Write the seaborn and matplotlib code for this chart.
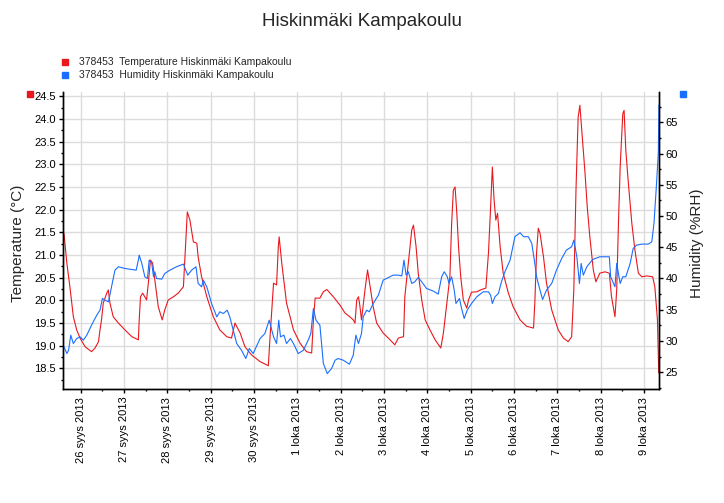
#!/usr/bin/env python3

import matplotlib
matplotlib.use('Agg')
import matplotlib.pyplot as plt
import matplotlib.dates as mdates
from matplotlib.ticker import MultipleLocator, FuncFormatter
from matplotlib.lines import Line2D
import pandas as pd
import seaborn as sns

# --- data ---
# time is given as days from 26.9.2013 00:00
temp_days = [-0.386, -0.32, -0.25, -0.17, -0.093, -0.016, 0.10, 0.25, 0.33, 0.41,
             0.445, 0.48, 0.52, 0.60, 0.637, 0.675, 0.75, 0.87, 1.02, 1.18,
             1.33, 1.35, 1.38, 1.43, 1.52, 1.56, 1.61, 1.66, 1.71, 1.79,
             1.88, 1.94, 2.02, 2.14, 2.25, 2.37, 2.43, 2.46, 2.52, 2.60,
             2.68, 2.71, 2.79, 2.91, 3.06, 3.21, 3.37, 3.48, 3.56, 3.68,
             3.79, 3.94, 4.14, 4.33, 4.37, 4.45, 4.52, 4.56, 4.58, 4.64,
             4.75, 4.91, 5.06, 5.21, 5.33, 5.37, 5.41, 5.52, 5.60, 5.68,
             5.83, 5.98, 6.10, 6.21, 6.29, 6.33, 6.37, 6.41, 6.44, 6.48,
             6.56, 6.62, 6.68, 6.75, 6.83, 6.98, 7.14, 7.25, 7.33, 7.45,
             7.48, 7.56, 7.64, 7.68, 7.74, 7.79, 7.87, 7.95, 8.06, 8.18,
             8.31, 8.37, 8.45, 8.52, 8.56, 8.60, 8.64, 8.68, 8.72, 8.77,
             8.83, 8.91, 8.95, 9.02, 9.14, 9.25, 9.35, 9.41, 9.46, 9.50,
             9.54, 9.58, 9.62, 9.68, 9.75, 9.87, 9.98, 10.14, 10.29, 10.45,
             10.48, 10.52, 10.56, 10.60, 10.68, 10.75, 10.87, 11.02, 11.14, 11.25,
             11.33, 11.38, 11.43, 11.48, 11.52, 11.58, 11.64, 11.69, 11.75, 11.83,
             11.89, 11.98, 12.10, 12.20, 12.25, 12.33, 12.37, 12.41, 12.45, 12.51,
             12.54, 12.58, 12.64, 12.72, 12.79, 12.87, 12.95, 13.06, 13.20, 13.25,
             13.31, 13.33, 13.34]
temp_vals = [21.47, 20.82, 20.30, 19.64, 19.35, 19.17, 18.98, 18.87, 18.95, 19.09,
             19.35, 19.57, 19.94, 20.16, 20.23, 19.94, 19.64, 19.50, 19.35, 19.20,
             19.13, 19.57, 20.08, 20.16, 20.01, 20.38, 20.89, 20.82, 20.45, 19.86,
             19.57, 19.79, 20.01, 20.08, 20.16, 20.30, 21.40, 21.95, 21.77, 21.29,
             21.26, 20.96, 20.52, 20.08, 19.64, 19.35, 19.20, 19.17, 19.50, 19.28,
             18.98, 18.80, 18.65, 18.56, 19.20, 20.38, 20.34, 21.18, 21.40, 20.82,
             19.94, 19.35, 19.06, 18.87, 18.84, 19.57, 20.05, 20.05, 20.19, 20.24,
             20.08, 19.90, 19.72, 19.64, 19.57, 19.50, 20.01, 20.08, 19.90, 19.57,
             20.23, 20.67, 20.30, 19.86, 19.50, 19.28, 19.13, 19.02, 19.17, 19.20,
             20.08, 20.82, 21.55, 21.66, 21.18, 20.60, 20.01, 19.57, 19.35, 19.13,
             18.95, 19.28, 19.94, 20.52, 21.69, 22.43, 22.50, 21.92, 21.18, 20.52,
             20.01, 19.83, 20.01, 20.18, 20.19, 20.24, 20.27, 21.04, 22.06, 22.94,
             22.21, 21.77, 21.92, 21.18, 20.60, 20.16, 19.86, 19.57, 19.43, 19.39,
             19.94, 21.04, 21.59, 21.48, 20.96, 20.38, 19.79, 19.35, 19.17, 19.09,
             19.20, 20.23, 22.43, 24.04, 24.30, 23.53, 22.79, 22.06, 21.40, 20.67,
             20.41, 20.60, 20.63, 20.60, 20.08, 19.64, 20.23, 21.69, 22.94, 24.11,
             24.19, 23.31, 22.57, 21.69, 21.11, 20.60, 20.52, 20.54, 20.52, 20.30,
             19.57, 18.77, 18.40]

hum_days = [-0.386, -0.32, -0.28, -0.23, -0.17, -0.093, -0.016, 0.06, 0.14, 0.25,
            0.37, 0.445, 0.50, 0.56, 0.64, 0.71, 0.79, 0.87, 1.02, 1.18,
            1.28, 1.33, 1.35, 1.41, 1.48, 1.54, 1.58, 1.64, 1.68, 1.71,
            1.75, 1.87, 1.94, 2.06, 2.21, 2.37, 2.47, 2.56, 2.66, 2.71,
            2.79, 2.83, 2.91, 3.02, 3.14, 3.21, 3.29, 3.38, 3.44, 3.52,
            3.60, 3.71, 3.81, 3.89, 3.98, 4.14, 4.25, 4.35, 4.45, 4.52,
            4.57, 4.61, 4.69, 4.75, 4.84, 4.91, 5.02, 5.14, 5.25, 5.31,
            5.37, 5.43, 5.52, 5.60, 5.69, 5.79, 5.87, 5.94, 6.06, 6.20,
            6.29, 6.35, 6.41, 6.48, 6.52, 6.60, 6.66, 6.75, 6.87, 6.98,
            7.06, 7.21, 7.33, 7.41, 7.46, 7.51, 7.56, 7.64, 7.71, 7.79,
            7.87, 7.98, 8.14, 8.25, 8.33, 8.39, 8.46, 8.50, 8.56, 8.62,
            8.66, 8.74, 8.79, 8.85, 8.92, 9.02, 9.14, 9.29, 9.41, 9.46,
            9.50, 9.56, 9.64, 9.71, 9.79, 9.91, 10.02, 10.14, 10.22, 10.33,
            10.41, 10.48, 10.52, 10.60, 10.66, 10.75, 10.87, 10.98, 11.10, 11.21,
            11.33, 11.38, 11.45, 11.51, 11.55, 11.60, 11.68, 11.74, 11.82, 11.98,
            12.20, 12.23, 12.33, 12.37, 12.45, 12.51, 12.58, 12.68, 12.75, 12.83,
            12.95, 13.10, 13.18, 13.23, 13.28, 13.33, 13.345]
hum_vals = [29.05, 27.98, 28.50, 30.92, 29.58, 30.38, 30.65, 30.12, 30.92, 32.52,
            34.12, 34.92, 36.79, 36.53, 36.26, 38.66, 41.33, 41.87, 41.60, 41.44,
            41.33, 42.94, 43.74, 42.40, 40.27, 40.00, 42.94, 42.40, 40.27, 41.07,
            40.00, 39.89, 40.80, 41.33, 41.87, 42.30, 40.53, 41.33, 41.87, 39.20,
            38.66, 39.73, 38.66, 35.99, 33.85, 34.66, 34.39, 34.92, 33.85, 31.72,
            29.58, 28.51, 27.18, 28.78, 27.98, 30.38, 31.18, 33.32, 30.65, 29.58,
            33.32, 30.65, 30.92, 29.58, 30.38, 29.58, 27.98, 28.51, 30.12, 31.18,
            35.19, 33.32, 32.52, 26.38, 24.77, 25.58, 26.91, 27.18, 26.91, 26.27,
            27.71, 30.92, 29.58, 31.18, 33.85, 34.92, 34.66, 35.99, 37.33, 39.73,
            40.00, 40.53, 40.53, 40.40, 42.94, 40.53, 41.07, 39.20, 39.46, 40.16,
            39.46, 38.40, 37.97, 37.49, 40.27, 41.07, 40.27, 39.20, 40.27, 38.13,
            35.99, 36.79, 35.19, 33.59, 34.92, 35.99, 37.06, 37.86, 37.86, 37.33,
            35.99, 37.06, 37.60, 39.46, 41.07, 42.94, 46.68, 47.32, 46.68, 46.68,
            45.61, 42.40, 40.27, 38.13, 36.63, 38.13, 39.20, 41.33, 43.20, 44.54,
            45.07, 46.14, 43.47, 39.20, 42.40, 40.53, 41.87, 42.40, 43.04, 43.47,
            43.47, 40.27, 38.66, 42.40, 39.20, 40.27, 40.27, 42.40, 44.81, 45.34,
            45.50, 45.50, 45.87, 48.81, 54.15, 60.03, 67.80]

fi_months = {9: 'syys', 10: 'loka'}
title = 'Hiskinmäki Kampakoulu'
temp_label = '378453  Temperature Hiskinmäki Kampakoulu'
hum_label = '378453  Humidity Hiskinmäki Kampakoulu'

RED = '#E8181E'
BLUE = '#1A6EFF'

sns.set_style("white")
plt.rcParams['font.family'] = ['Liberation Sans', 'DejaVu Sans']

base = pd.Timestamp('2013-09-26')
temp_time = base + pd.to_timedelta(temp_days, unit='D')
hum_time = base + pd.to_timedelta(hum_days, unit='D')

W, H = 724, 503
fig, ax = plt.subplots(figsize=(W / 100, H / 100), dpi=100)
fig.subplots_adjust(left=63.3 / W, right=659.3 / W, top=1 - 91.7 / H, bottom=1 - 389 / H)
ax2 = ax.twinx()

sns.lineplot(x=temp_time, y=temp_vals, ax=ax, color=RED, lw=0.8, estimator=None)
sns.lineplot(x=hum_time, y=hum_vals, ax=ax2, color=BLUE, lw=0.8, estimator=None)

ax.set_xlim(base - pd.Timedelta(days=0.402), base + pd.Timedelta(days=13.353))
ax.set_ylim(18.047, 24.6)
ax2.set_ylim(22.3, 69.9)

# x axis: a label per day, minor tick at noon
ax.xaxis.set_major_locator(mdates.DayLocator())
ax.xaxis.set_minor_locator(mdates.HourLocator(byhour=[12]))


def fin_date(x, pos):
    d = mdates.num2date(x)
    return f"{d.day} {fi_months[d.month]} {d.year}"


ax.xaxis.set_major_formatter(FuncFormatter(fin_date))
plt.setp(ax.get_xticklabels(), rotation=90)

ax.yaxis.set_major_locator(MultipleLocator(0.5))
ax.yaxis.set_minor_locator(MultipleLocator(0.25))
ax.yaxis.set_major_formatter(FuncFormatter(lambda v, p: f"{v:.1f}"))
ax2.yaxis.set_major_locator(MultipleLocator(5))
ax2.yaxis.set_minor_locator(MultipleLocator(2.5))

for a in (ax, ax2):
    a.tick_params(which='major', direction='out', length=3, width=1, labelsize=8,
                  colors='black', pad=2.5)
    a.tick_params(which='minor', direction='out', length=1.6, width=1, colors='black')
    a.spines['top'].set_visible(False)
    for s in ('left', 'right', 'bottom'):
        a.spines[s].set_color('black')
        a.spines[s].set_linewidth(1)
ax.tick_params(axis='y', which='both', left=True, right=False)
ax.tick_params(axis='x', which='both', bottom=True)
ax2.tick_params(axis='y', which='both', right=True, pad=1.5)

ax.grid(True, which='major', color='#DCDCDC', lw=1)
ax.set_axisbelow(True)
ax2.grid(False)

ax.set_xlabel('')
ax.set_ylabel('Temperature (°C)', fontsize=11)
ax.yaxis.set_label_coords(-0.064, 0.49)
ax2.set_ylabel('Humidity (%RH)', fontsize=11)
ax2.yaxis.set_label_coords(1.0515, 0.49)

fig.text(0.5, 1 - 22 / H, title, ha='center', va='center', fontsize=13.5)

# legend entries and axis colour markers
for y_px, col, lab in ((62, RED, temp_label), (75, BLUE, hum_label)):
    fig.add_artist(Line2D([65 / W], [1 - y_px / H], transform=fig.transFigure,
                          marker='s', ms=4.3, color=col, ls=''))
    fig.text(79 / W, 1 - (y_px - 0.5) / H, lab, ha='left', va='center', fontsize=7.5)
fig.add_artist(Line2D([30 / W], [1 - 94 / H], transform=fig.transFigure,
                      marker='s', ms=4.3, color=RED, ls=''))
fig.add_artist(Line2D([683 / W], [1 - 94 / H], transform=fig.transFigure,
                      marker='s', ms=4.3, color=BLUE, ls=''))

plt.savefig('out.png', dpi=100)
plt.close()
